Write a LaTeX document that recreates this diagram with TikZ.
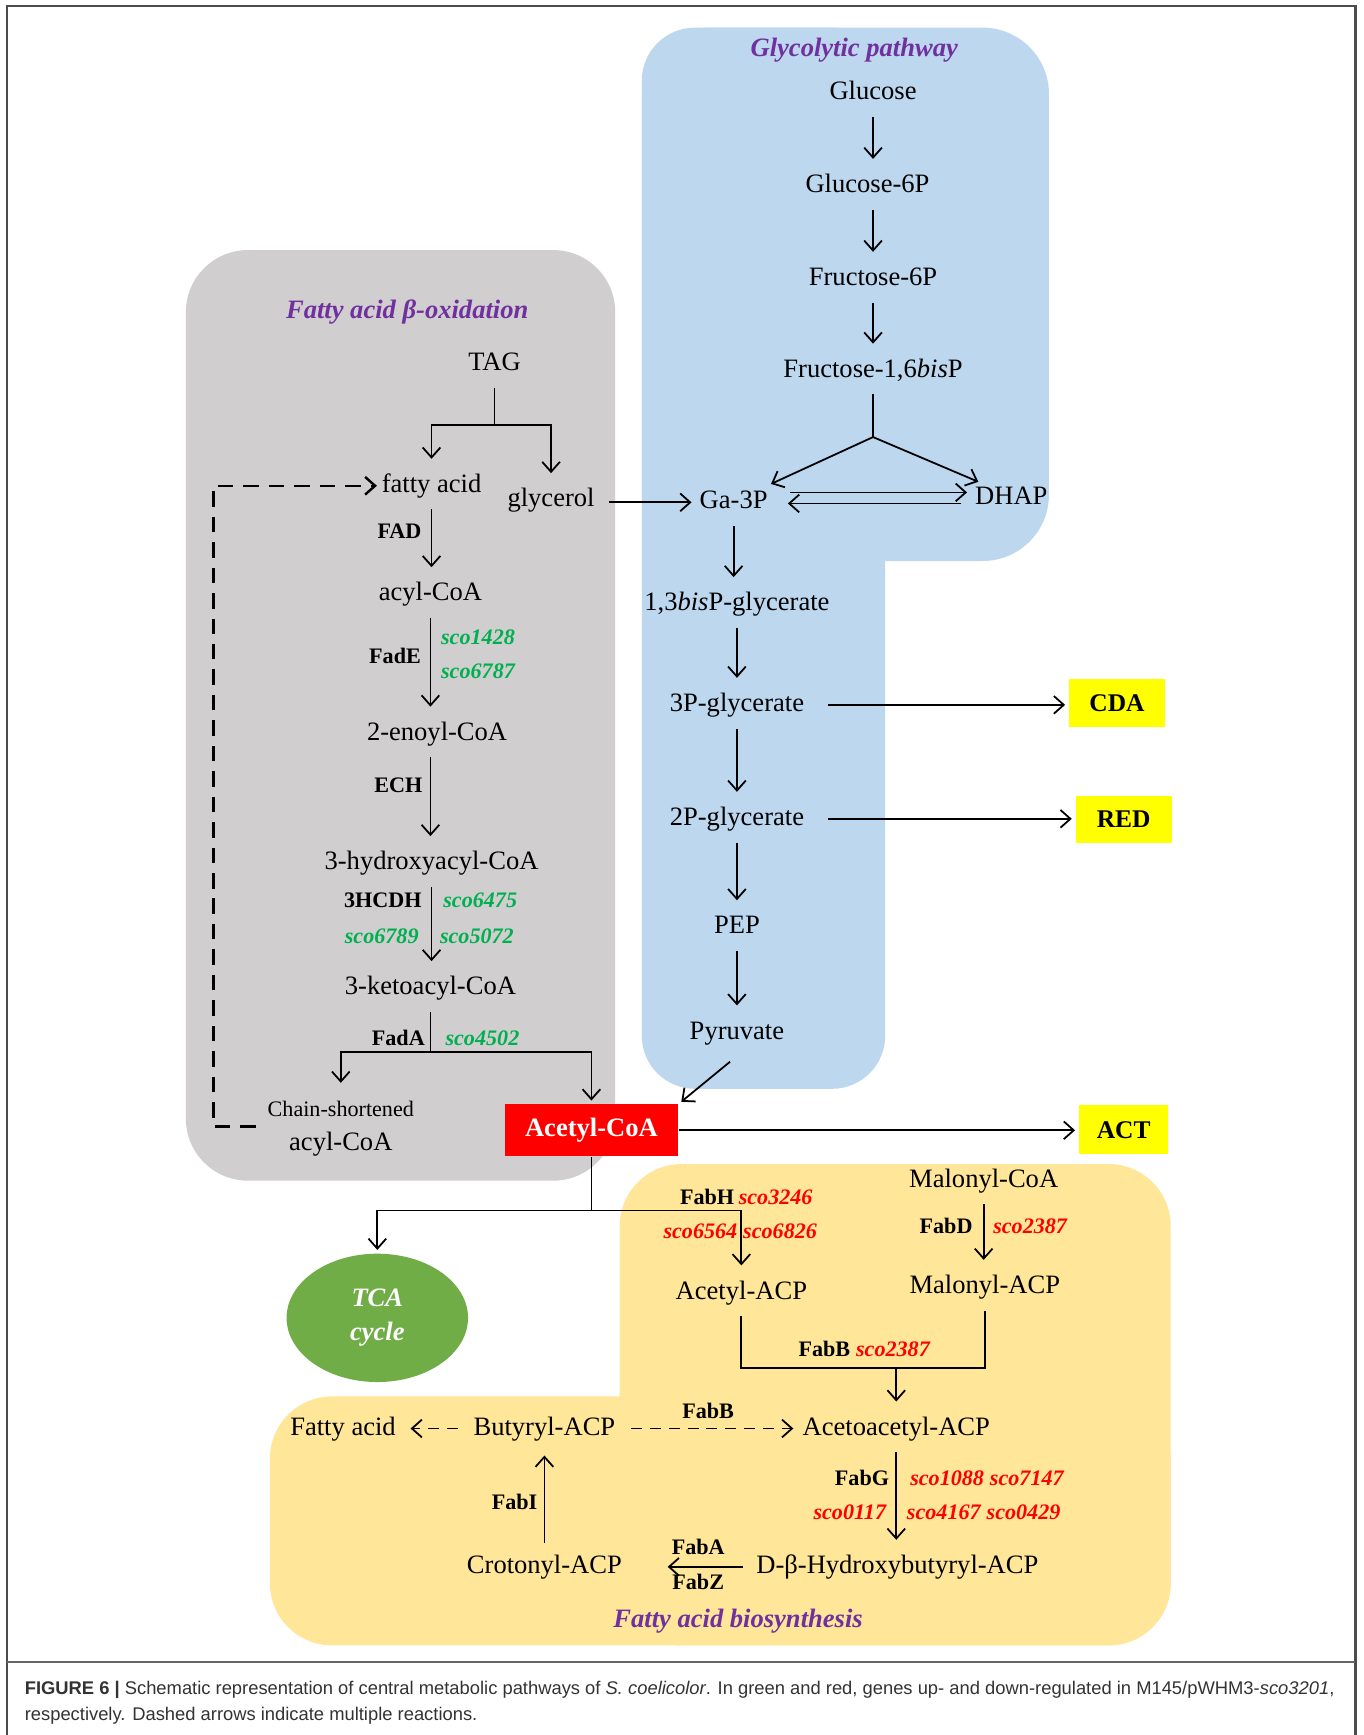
\documentclass[tikz,border=0pt]{standalone}
\usepackage{fontspec}
\setmainfont{Liberation Serif}
\setsansfont{Liberation Sans}
\usetikzlibrary{arrows.meta,shapes.geometric}
\definecolor{graybg}{HTML}{D0CECE}
\definecolor{bluebg}{HTML}{BDD7EE}
\definecolor{yellowbg}{HTML}{FFE699}
\definecolor{upgreen}{HTML}{00B050}
\definecolor{ttlpurple}{HTML}{7030A0}
\definecolor{tcagreen}{HTML}{70AD47}
\definecolor{prodyellow}{HTML}{FFFF00}
\definecolor{accred}{HTML}{FF0000}
\begin{document}
\begin{tikzpicture}[x=0.5pt,y=-0.5pt,
  >={Straight Barb[length=4.5pt,width=8pt]},
  line/.style={line width=0.8pt},
  conn/.style={line width=0.8pt,->,shorten >=1.5pt},
  dsh/.style={line width=1.1pt,->,dash pattern=on 7pt off 4.5pt},
  dshb/.style={line width=0.8pt,->,dash pattern=on 5pt off 3.5pt},
  met/.style={font=\fontsize{12}{14}\selectfont, inner xsep=2pt, inner ysep=5pt, text height=8.5pt, text depth=2.5pt},
  enz/.style={font=\fontsize{10}{12}\selectfont\bfseries, inner sep=1pt},
  upg/.style={font=\fontsize{10}{12}\selectfont\bfseries\itshape, text=upgreen, inner sep=1pt},
  dng/.style={font=\fontsize{10}{12}\selectfont\bfseries\itshape, text=accred, inner sep=1pt},
  ttl/.style={font=\fontsize{12}{14}\selectfont\bfseries\itshape, text=ttlpurple},
  prod/.style={fill=prodyellow, font=\fontsize{11.5}{14}\selectfont\bfseries, minimum width=43.5pt, minimum height=21.5pt, inner sep=0pt},
  acbox/.style={fill=accred, text=white, font=\fontsize{12}{14}\selectfont\bfseries, minimum width=78.5pt, minimum height=23.5pt, inner sep=0pt},
  tcanode/.style={ellipse, fill=tcagreen, text=white, font=\fontsize{12}{15.5}\selectfont\bfseries\itshape, align=center, minimum width=82pt, minimum height=58pt, inner sep=0pt},
  capt/.style={anchor=base west, inner sep=0pt, text=black!80, font=\sffamily\fontsize{8.3}{10}\selectfont},
]
\useasboundingbox (0,0) rectangle (1232,1568);
\fill[white] (0,0) rectangle (1232,1568);

% frame
\draw[line width=1pt, black!70] (6.5,1568) -- (6.5,5.5) -- (1225,5.5) -- (1225,1568);
\draw[line width=0.5pt, black!60] (6.5,1502) -- (1225,1502);

% backgrounds
\fill[graybg, rounded corners=28pt] (168,226) rectangle (556,1067);
\fill[bluebg, rounded corners=30pt] (580,25) rectangle (948,507);
\fill[bluebg, rounded corners=24pt] (580,25) rectangle (800,984);
\fill[yellowbg, rounded corners=28pt] (560,1052) rectangle (1058,1487);
\fill[yellowbg, rounded corners=28pt] (244,1262) rectangle (1058,1487);

% ---------- glycolysis ----------
\node[ttl] (tglyc) at (772,45) {Glycolytic pathway};
\node[met] (glc) at (789,84) {Glucose};
\node[met] (g6p) at (784,168) {Glucose-6P};
\node[met] (f6p) at (789,252) {Fructose-6P};
\node[met] (f16) at (789,335) {Fructose-1,6\textit{bis}P};
\node[met] (ga3p) at (663,454) {Ga-3P};
\node[met] (dhap) at (914,450) {DHAP};
\node[met] (bpg) at (666,546) {1,3\textit{bis}P-glycerate};
\node[met] (p3g) at (666,637) {3P-glycerate};
\node[met] (p2g) at (666,740) {2P-glycerate};
\node[met] (pep) at (666,838) {PEP};
\node[met] (pyr) at (666,933) {Pyruvate};
\node[prod] (cda) at (1009.5,635.5) {CDA};
\node[prod] (red) at (1015.5,740.5) {RED};
\node[prod, minimum width=40.5pt, minimum height=22pt] (act) at (1015.5,1021) {ACT};
\node[acbox] (acoa) at (534.5,1021.5) {Acetyl-CoA};

\draw[conn] (glc) -- (glc |- g6p.north);
\draw[conn] (f6p |- g6p.south) -- (f6p.north);
\draw[conn] (f6p) -- (f16);
\coordinate (fsplit) at (789,395);
\draw[line] (f16) -- (fsplit);
\draw[conn] (fsplit) -- ([xshift=-2pt,yshift=-3pt]ga3p.north east);
\draw[conn] (fsplit) -- ([xshift=5pt,yshift=-4pt]dhap.north west);
\draw[conn, shorten <=8pt] ([yshift=4.5pt]ga3p.east) -- ([yshift=4.5pt]ga3p.east -| dhap.west);
\draw[conn, shorten <=4pt, shorten >=7pt] ([yshift=-2.5pt]dhap.west) -- ([yshift=-2.5pt]dhap.west -| ga3p.east);
\draw[conn] (ga3p) -- (ga3p |- bpg.north);
\draw[conn] (bpg) -- (p3g);
\draw[conn] (p3g) -- (p2g);
\draw[conn] (p2g) -- (pep);
\draw[conn] (pep) -- (pyr);
\draw[conn, shorten <=4pt] (pyr.south) -- (acoa.north east);
\draw[conn, shorten <=8.5pt] (p3g.east) -- (p3g.east -| cda.west);
\draw[conn, shorten <=8.5pt] (p2g.east) -- (p2g.east -| red.west);
\draw[conn] (acoa.east) -- (acoa.east -| act.west);

% ---------- beta oxidation ----------
\node[ttl] (tbeta) at (368,282) {Fatty acid β-oxidation};
\node[met] (tag) at (447,329) {TAG};
\node[met] (fa) at (390,439) {fatty acid};
\node[met] (glyc) at (498,452) {glycerol};
\node[met] (acyl) at (389,537) {acyl-CoA};
\node[met] (enoyl) at (395,663) {2-enoyl-CoA};
\node[met] (hyd) at (390,780) {3-hydroxyacyl-CoA};
\node[met] (keto) at (389,893) {3-ketoacyl-CoA};
\node[met, font=\fontsize{10}{12}\selectfont] (chain) at (308,1003) {Chain-shortened};
\node[met] (chainacyl) at (308,1034) {acyl-CoA};

\node[enz] (lfad) at (361,480) {FAD};
\node[enz] (lfade) at (357,593) {FadE};
\node[upg] (g1428) at (432,576) {sco1428};
\node[upg] (g6787) at (432,607) {sco6787};
\node[enz] (lech) at (360,710) {ECH};
\node[enz] (l3hcdh) at (346,814) {3HCDH};
\node[upg] (g6475) at (434,814) {sco6475};
\node[upg] (g6789) at (345,846) {sco6789};
\node[upg] (g5072) at (431,846) {sco5072};
\node[enz] (lfada) at (360,938) {FadA};
\node[upg] (g4502) at (436,938) {sco4502};

\draw[conn, shorten <=4.5pt] (glyc.east |- ga3p.west) -- (ga3p.west);
\coordinate (tsplit) at (447,384);
\draw[line] (tag) -- (tsplit);
\draw[conn] (tsplit) -| (fa.north);
\draw[conn] (tsplit) -| (glyc.north);
\draw[conn] (fa) -- (fa |- acyl.north);
\draw[conn] (acyl) -- (acyl |- enoyl.north);
\draw[conn] (acyl |- enoyl.south) -- (acyl |- hyd.north);
\draw[conn] (hyd) -- (hyd |- keto.north);
\coordinate (ksplit) at (389,951);
\draw[line] (keto) -- (ksplit);
\draw[conn] (ksplit) -| (chain.north);
\draw[conn] (ksplit) -| (acoa.north);
\coordinate (dstart) at (231,1018);
\draw[dsh] (dstart) -- ++(-38,0) |- (fa.west);

% ---------- acetyl-CoA split ----------
\node[tcanode] (tca) at (341,1191) {TCA\\cycle};
\coordinate (asplit) at (534.5,1094);
\draw[line] (acoa) -- (asplit);
\draw[conn] (asplit) -| (tca.north);

% ---------- fatty acid biosynthesis ----------
\node[met] (mcoa) at (889,1067) {Malonyl-CoA};
\node[met] (acacp) at (670,1168) {Acetyl-ACP};
\node[met] (macp) at (890,1163) {Malonyl-ACP};
\node[met] (aacp) at (810,1291) {Acetoacetyl-ACP};
\node[met] (buacp) at (492,1291) {Butyryl-ACP};
\node[met] (fa2) at (310,1291) {Fatty acid};
\node[met] (dhb) at (811,1416) {D-β-Hydroxybutyryl-ACP};
\node[met] (crot) at (492,1416) {Crotonyl-ACP};
\node[ttl] (tbio) at (667,1465) {Fatty acid biosynthesis};

\draw[conn] (asplit) -| (acacp.north);

\node[enz] (lfabh) at (639,1082) {FabH};
\node[dng] (g3246) at (701,1082) {sco3246};
\node[dng] (g6564) at (633,1113) {sco6564};
\node[dng] (g6826) at (705,1113) {sco6826};
\node[enz] (lfabd) at (855,1108) {FabD};
\node[dng] (g2387a) at (931,1108) {sco2387};
\node[enz] (lfabb) at (745,1219) {FabB};
\node[dng] (g2387b) at (807,1219) {sco2387};
\node[enz] (lfabb2) at (640,1275) {FabB};
\node[enz] (lfabg) at (779,1336) {FabG};
\node[dng] (g1088) at (856,1336) {sco1088};
\node[dng] (g7147) at (928,1336) {sco7147};
\node[dng] (g0117) at (768,1367) {sco0117};
\node[dng] (g4167) at (853,1367) {sco4167};
\node[dng] (g0429) at (925,1367) {sco0429};
\node[enz] (lfaba) at (631,1398) {FabA};
\node[enz] (lfabz) at (631,1430) {FabZ};
\node[enz] (lfabi) at (465,1357) {FabI};

\draw[conn] (mcoa) -- (mcoa |- macp.north);
\coordinate (bsplit) at (810,1236);
\draw[line] (acacp.south) |- (macp.south |- bsplit) -- (macp.south);
\draw[conn] (bsplit) -- (aacp.north);
\draw[dshb, shorten <=5pt, shorten >=2pt] (buacp.east) -- (aacp.west);
\draw[dshb, shorten <=5pt, shorten >=4.5pt] (buacp.west) -- (fa2.east);
\draw[conn] (aacp) -- (aacp |- dhb.north);
\draw[conn, shorten <=4pt, shorten >=18.5pt] (dhb.west) -- (dhb.west -| crot.east);
\draw[conn] (crot) -- (buacp);

% ---------- caption ----------
\node[capt] (cap1) at (22,1531) {\textbf{FIGURE 6 |} Schematic representation of central metabolic pathways of \textit{S. coelicolor}. In green and red, genes up- and down-regulated in M145/pWHM3-\textit{sco3201},};
\node[capt] (cap2) at (22,1555) {respectively. Dashed arrows indicate multiple reactions.};
\end{tikzpicture}
\end{document}
